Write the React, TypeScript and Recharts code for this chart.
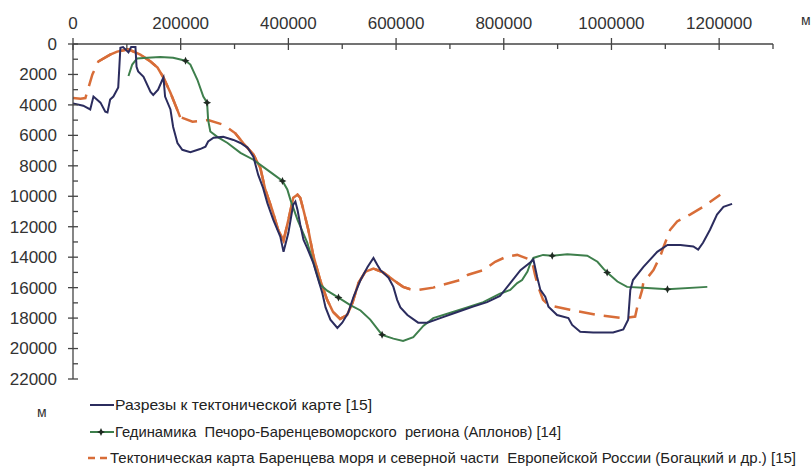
import { ComposedChart, Line, XAxis, YAxis, Legend } from 'recharts'

// profile depth (m) along the section line (m)
const xTicks = [0, 100000, 200000, 300000, 400000, 500000, 600000, 700000, 800000, 900000, 1000000, 1100000, 1200000, 1300000]
const yTicks = [0, 1000, 2000, 3000, 4000, 5000, 6000, 7000, 8000, 9000, 10000, 11000, 12000, 13000, 14000, 15000, 16000, 17000, 18000, 19000, 20000, 21000, 22000]

// Разрезы к тектонической карте
const razrezy: [number, number][] = [
  [0, 3900], [19000, 4050], [32000, 4300], [38000, 3450], [51000, 3850], [60000, 4450], [64000, 4500],
  [69000, 3650], [75000, 3450], [84000, 2850], [88000, 250], [93000, 200], [103000, 550], [108000, 200],
  [116000, 200], [118000, 1500], [121000, 1800], [131000, 2150], [144000, 3150], [149000, 3350],
  [158000, 3000], [166000, 2350], [168000, 2200], [171000, 3450], [181000, 4300], [186000, 5450],
  [194000, 6500], [203000, 6950], [218000, 7100], [236000, 6900], [246000, 6750], [251000, 6400],
  [261000, 6150], [279000, 6100], [298000, 6300], [311000, 6500], [324000, 6800], [335000, 7400],
  [344000, 8600], [353000, 9450], [361000, 10450], [372000, 11550], [385000, 12650], [391000, 13650],
  [400000, 12400], [409000, 10550], [413000, 10350], [417000, 10900], [422000, 11850], [428000, 12850],
  [435000, 13400], [446000, 14350], [454000, 15300], [463000, 16350], [469000, 17300], [478000, 18100],
  [491000, 18650], [500000, 18300], [511000, 17650], [521000, 16600], [534000, 15500], [547000, 14650],
  [558000, 14050], [565000, 14500], [571000, 14850], [586000, 15350], [595000, 15950], [602000, 16800],
  [608000, 17300], [621000, 17800], [641000, 18300], [658000, 18300], [682000, 18000], [714000, 17600],
  [743000, 17250], [769000, 16950], [793000, 16550], [812000, 15700], [831000, 14850], [849000, 14350],
  [855000, 14150], [862000, 15300], [868000, 16150], [877000, 16600], [883000, 17250], [899000, 17800],
  [920000, 18000], [927000, 18450], [942000, 18900], [966000, 18950], [1003000, 18950], [1022000, 18750],
  [1031000, 18100], [1035000, 16150], [1040000, 15500], [1059000, 14650], [1085000, 13650],
  [1104000, 13200], [1128000, 13200], [1152000, 13300], [1161000, 13500], [1170000, 13050],
  [1183000, 12200], [1196000, 11200], [1208000, 10700], [1224000, 10500],
]

// Гединамика Печоро-Баренцевоморского региона (Аплонов)
const geodinamika: [number, number][] = [
  [103000, 2100], [110000, 1350], [119000, 950], [138000, 900], [162000, 850], [186000, 900],
  [209000, 1100], [218000, 1350], [231000, 2350], [242000, 3450], [249000, 3850], [251000, 5000],
  [255000, 5750], [268000, 6100], [287000, 6500], [311000, 7150], [335000, 7600], [366000, 8400],
  [389000, 9000], [398000, 9550], [404000, 10250], [417000, 11550], [435000, 13050], [446000, 14300],
  [459000, 15800], [472000, 16200], [493000, 16650], [515000, 17150], [534000, 17500], [552000, 18100],
  [574000, 19100], [595000, 19350], [613000, 19500], [632000, 19250], [651000, 18500], [669000, 18000],
  [701000, 17650], [732000, 17300], [762000, 16950], [793000, 16400], [812000, 16150], [825000, 15700],
  [834000, 15500], [844000, 14950], [849000, 14450], [855000, 14050], [873000, 13850], [890000, 13900],
  [918000, 13800], [955000, 13900], [974000, 14300], [985000, 14750], [992000, 15000], [1011000, 15600],
  [1029000, 15950], [1059000, 16000], [1104000, 16100], [1178000, 15950],
]

// points marked with stars on the Аплонов profile
const geodinamikaMarks: [number, number][] = [
  [209000, 1100], [249000, 3850], [389000, 9000], [493000, 16650], [574000, 19100],
  [890000, 13900], [992000, 15000], [1104000, 16100],
]

// Тектоническая карта Баренцева моря (Богацкий и др.)
const bogatsky: [number, number][] = [
  [0, 3550], [14000, 3600], [23000, 3550], [36000, 2000], [47000, 1150], [69000, 700], [82000, 500],
  [103000, 350], [125000, 700], [144000, 1150], [157000, 1550], [168000, 2200], [181000, 3200],
  [190000, 4000], [199000, 4800], [222000, 5100], [251000, 5000], [279000, 5300], [301000, 5850],
  [316000, 6500], [335000, 7250], [348000, 8150], [357000, 9550], [370000, 10900], [381000, 12200],
  [391000, 12900], [400000, 11550], [409000, 10100], [417000, 9900], [422000, 10100], [428000, 10900],
  [437000, 12200], [446000, 13850], [459000, 15500], [472000, 16800], [483000, 17600], [496000, 18050],
  [509000, 17800], [519000, 17000], [530000, 15700], [543000, 14950], [558000, 14750], [576000, 15000],
  [595000, 15500], [613000, 15950], [626000, 16100], [641000, 16150], [669000, 16000], [688000, 15800],
  [719000, 15500], [734000, 15150], [762000, 14850], [784000, 14300], [806000, 13950], [825000, 13850],
  [844000, 14100], [853000, 14350], [858000, 15150], [864000, 15950], [873000, 16800], [883000, 17150],
  [923000, 17450], [974000, 17800], [1022000, 18000], [1044000, 17900], [1048000, 17250],
  [1057000, 16150], [1059000, 15700], [1078000, 14850], [1091000, 13900], [1096000, 13400],
  [1109000, 12200], [1122000, 11650], [1146000, 11200], [1170000, 10700], [1202000, 9900],
]

const COLORS = {
  razrezy: '#2B2C5E',
  geo: '#3E7F4C',
  geoMark: '#1F2A22',
  bogatsky: '#D86D38',
  axis: '#444',
  text: '#333',
}

const FONT = "'Liberation Sans', Arial, sans-serif"

const toPts = (arr: [number, number][]) => arr.map(([x, y]) => ({ x, y }))

const razrezyData = toPts(razrezy)
const geoData = toPts(geodinamika)
const geoMarkData = toPts(geodinamikaMarks)
const bogatskyData = toPts(bogatsky)
// the Богацкий curve is drawn solid where it is steep, dashed elsewhere
const bogatskySolid1 = bogatskyData.filter(p => p.x >= 47000 && p.x <= 199000)
const bogatskySolid2 = bogatskyData.filter(p => p.x >= 301000 && p.x <= 626000)

function starPath(cx: number, cy: number, r: number) {
  const k = r * 0.32
  return `M${cx},${cy - r}L${cx + k},${cy - k}L${cx + r},${cy}L${cx + k},${cy + k}L${cx},${cy + r}L${cx - k},${cy + k}L${cx - r},${cy}L${cx - k},${cy - k}Z`
}

function XTick(props: any) {
  const { x, y, payload } = props
  const v = payload.value as number
  const major = v % 200000 === 0
  return (
    <g>
      {major
        ? <line x1={x} x2={x} y1={y - 6} y2={y + 6} stroke={COLORS.axis} strokeWidth={1.3} />
        : <line x1={x} x2={x} y1={y} y2={y + 5} stroke={COLORS.axis} strokeWidth={1.3} />}
      {major && v <= 1200000 && (
        <text x={x} y={y - 15} textAnchor="middle" fontSize={17} fontFamily={FONT} fill={COLORS.text}>{v}</text>
      )}
    </g>
  )
}

function YTick(props: any) {
  const { x, y, payload } = props
  const v = payload.value as number
  const major = v % 2000 === 0
  return (
    <g>
      {major
        ? <line x1={x - 5} x2={x + 5} y1={y} y2={y} stroke={COLORS.axis} strokeWidth={1.3} />
        : <line x1={x} x2={x + 5} y1={y} y2={y} stroke={COLORS.axis} strokeWidth={1.3} />}
      {major && (
        <text x={x - 16} y={y} dy="0.35em" textAnchor="end" fontSize={17} fontFamily={FONT} fill={COLORS.text}>{v}</text>
      )}
    </g>
  )
}

function StarDot(props: any) {
  const { cx, cy, index } = props
  if (cx == null || cy == null) return <g key={`m${index}`} />
  return <path key={`m${index}`} d={starPath(cx, cy, 4)} fill={COLORS.geoMark} />
}

// legend rows: label and the width the (condensed) text takes in the source
const legendItems = [
  { key: 'razrezy', label: 'Разрезы к тектонической карте [15]', width: 257 },
  { key: 'geo', label: 'Гединамика  Печоро-Баренцевоморского  региона (Аплонов) [14]', width: 446 },
  { key: 'bogatsky', label: 'Тектоническая карта Баренцева моря и северной части  Европейской России (Богацкий и др.) [15]', width: 686 },
]

function LegendSample({ kind, cy }: { kind: string; cy: number }) {
  if (kind === 'razrezy') {
    return <line x1={90} x2={114} y1={cy} y2={cy} stroke={COLORS.razrezy} strokeWidth={2} />
  }
  if (kind === 'geo') {
    return (
      <g>
        <line x1={90} x2={114} y1={cy} y2={cy} stroke={COLORS.geo} strokeWidth={2} />
        <path d={starPath(101, cy, 4)} fill={COLORS.geoMark} />
      </g>
    )
  }
  return <line x1={88} x2={108} y1={cy} y2={cy} stroke={COLORS.bogatsky} strokeWidth={2.5} strokeDasharray="7 5" />
}

function renderLegend() {
  const rows = [13, 40, 66]
  return (
    <svg width={811} height={77} style={{ display: 'block' }}>
      <text x={37} y={20} dy="0.35em" fontFamily={FONT} fontSize={14} fill="#333">м</text>
      {legendItems.map((item, i) => (
        <g key={item.key}>
          <LegendSample kind={item.key} cy={rows[i]} />
          <text
            x={item.key === 'bogatsky' ? 110 : 115}
            y={rows[i]}
            dy="0.35em"
            fontFamily={FONT}
            fontSize={15}
            fill="#222"
            textLength={item.width}
            lengthAdjust="spacingAndGlyphs"
            style={{ whiteSpace: 'pre' }}
          >
            {item.label}
          </text>
        </g>
      ))}
    </svg>
  )
}

export default function App() {
  return (
    <div style={{ position: 'absolute', left: 0, top: 0, width: 811, height: 469, background: '#fff' }}>
      <ComposedChart width={811} height={469} margin={{ top: 14, right: 38, bottom: 90, left: 13 }}>
        <XAxis
          type="number"
          dataKey="x"
          orientation="top"
          domain={[0, 1300000]}
          ticks={xTicks}
          interval={0}
          height={30}
          tickSize={0}
          tickMargin={0}
          tickLine={false}
          axisLine={{ stroke: COLORS.axis, strokeWidth: 1.3 }}
          tick={<XTick />}
          label={{ value: 'м', position: 'right', offset: 28, dy: -9, fontSize: 14, fill: '#333', fontFamily: FONT }}
        />
        <YAxis
          type="number"
          dataKey="y"
          reversed
          domain={[0, 22000]}
          ticks={yTicks}
          interval={0}
          width={60}
          tickSize={0}
          tickMargin={0}
          tickLine={false}
          axisLine={{ stroke: COLORS.axis, strokeWidth: 1.3 }}
          tick={<YTick />}
        />
        <Line
          data={bogatskyData}
          dataKey="y"
          type="linear"
          stroke={COLORS.bogatsky}
          strokeWidth={2.5}
          strokeDasharray="16 9"
          dot={false}
          isAnimationActive={false}
          legendType="none"
        />
        <Line data={bogatskySolid1} dataKey="y" type="linear" stroke={COLORS.bogatsky} strokeWidth={2.5} dot={false} isAnimationActive={false} legendType="none" />
        <Line data={bogatskySolid2} dataKey="y" type="linear" stroke={COLORS.bogatsky} strokeWidth={2.5} dot={false} isAnimationActive={false} legendType="none" />
        <Line
          data={geoData}
          dataKey="y"
          type="linear"
          stroke={COLORS.geo}
          strokeWidth={2}
          dot={false}
          isAnimationActive={false}
          legendType="none"
        />
        <Line
          data={razrezyData}
          dataKey="y"
          type="linear"
          stroke={COLORS.razrezy}
          strokeWidth={2}
          dot={false}
          isAnimationActive={false}
          legendType="none"
        />
        <Line
          data={geoMarkData}
          dataKey="y"
          stroke="none"
          dot={<StarDot />}
          isAnimationActive={false}
          legendType="none"
        />
        <Legend
          layout="horizontal"
          verticalAlign="middle"
          align="center"
          content={renderLegend}
          wrapperStyle={{ left: 0, top: 392, width: 811, height: 77 }}
        />
      </ComposedChart>
    </div>
  )
}
